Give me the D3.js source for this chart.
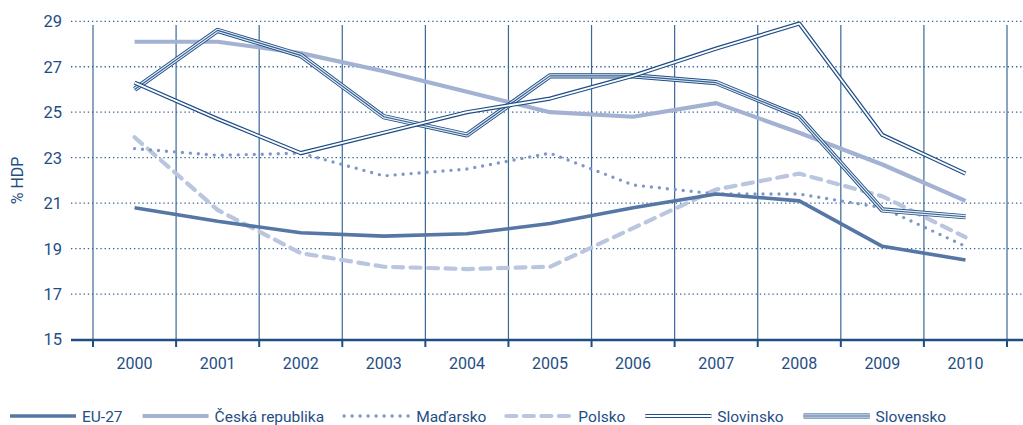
<!DOCTYPE html>
<html>
<head>
<meta charset="utf-8">
<script src="https://cdn.jsdelivr.net/npm/d3@7"></script>
<style>
	body { margin: 0; background: #fff; }
	text { font-family: "Roboto", "Open Sans", sans-serif; fill: #1f4e85; }
</style>
</head>
<body>
<script>
//chart values
var years = [2000, 2001, 2002, 2003, 2004, 2005, 2006, 2007, 2008, 2009, 2010];
var yTicks = [15, 17, 19, 21, 23, 25, 27, 29];

var eu27     = [20.8, 20.2, 19.7, 19.55, 19.65, 20.1, 20.8, 21.4, 21.1, 19.1, 18.5];
var cesko    = [28.1, 28.1, 27.6, 26.8, 25.9, 25.0, 24.8, 25.4, 24.1, 22.7, 21.1];
var madarsko = [23.4, 23.1, 23.2, 22.2, 22.5, 23.2, 21.8, 21.4, 21.4, 20.8, 19.1];
var polsko   = [23.9, 20.7, 18.8, 18.2, 18.1, 18.2, 19.9, 21.6, 22.3, 21.3, 19.5];
var slovinsko = [26.3, 24.7, 23.2, 24.1, 25.0, 25.6, 26.6, 27.8, 28.9, 24.0, 22.3];
var slovensko = [26.0, 28.6, 27.5, 24.8, 24.0, 26.6, 26.6, 26.3, 24.8, 20.7, 20.4];

var names = ["EU-27", "Česká republika", "Maďarsko", "Polsko", "Slovinsko", "Slovensko"];
var styles = ["solid", "light", "dotted", "dashed", "double", "triple"];
var values = [eu27, cesko, madarsko, polsko, slovinsko, slovensko];

var W = 1023, H = 425;
var dark = "#1f4e85";

var svg = d3.select("body").append("svg")
	.attr("width", W)
	.attr("height", H);

var xScale = d3.scaleBand().domain(years).range([93, 1007]);
var yScale = d3.scaleLinear().domain([15, 29]).range([339.5, 21.3]);

function xMid(yr) { return xScale(yr) + xScale.bandwidth() / 2; }

//horizontal dotted grid
svg.append("g").selectAll("line")
	.data(yTicks.filter(function(d) { return d > 15; })).enter()
		.append("line")
		.attr("x1", 71).attr("x2", W)
		.attr("y1", function(d) { return yScale(d); })
		.attr("y2", function(d) { return yScale(d); })
		.style("stroke", "#2f6094")
		.style("stroke-width", 1.3)
		.style("stroke-dasharray", "1.3,2.9");

//vertical separators between years
var bounds = years.map(function(d) { return xScale(d); }).concat([xScale.range()[1]]);
svg.append("g").selectAll("line")
	.data(bounds).enter()
		.append("line")
		.attr("x1", function(d) { return d; })
		.attr("x2", function(d) { return d; })
		.attr("y1", 25).attr("y2", 339)
		.style("stroke", "#3a6898")
		.style("stroke-width", 1.2);

//y tick labels
svg.append("g").selectAll("text")
	.data(yTicks).enter()
		.append("text")
		.attr("x", 62)
		.attr("y", function(d) { return yScale(d); })
		.attr("dy", "0.36em")
		.style("text-anchor", "end")
		.style("font-size", "16.5px")
		.text(function(d) { return d; });

svg.append("text")
	.attr("transform", "translate(23," + ((yScale(15) + yScale(29)) / 2) + ") rotate(-90)")
	.style("text-anchor", "middle")
	.style("font-size", "16px")
	.text("% HDP");

//x axis
svg.append("line")
	.attr("x1", 71).attr("x2", W)
	.attr("y1", 340).attr("y2", 340)
	.style("stroke", dark)
	.style("stroke-width", 2.4);
svg.append("g").selectAll("line")
	.data(bounds).enter()
		.append("line")
		.attr("x1", function(d) { return d; })
		.attr("x2", function(d) { return d; })
		.attr("y1", 340).attr("y2", 347)
		.style("stroke", dark)
		.style("stroke-width", 2);
svg.append("g").selectAll("text")
	.data(years).enter()
		.append("text")
		.attr("x", function(d) { return xMid(d); })
		.attr("y", 369)
		.style("text-anchor", "middle")
		.style("font-size", "16px")
		.text(function(d) { return d; });

//draws a path in one of the reference line styles
function strokeStyled(g, dAttr, style) {
	function p(color, w) {
		return g.append("path").attr("d", dAttr)
			.style("fill", "none")
			.style("stroke", color)
			.style("stroke-width", w)
			.style("stroke-linejoin", "round");
	}
	if (style == "solid") {
		p("#5676a6", 3.6);
	} else if (style == "light") {
		p("#a3b2d2", 4.2);
	} else if (style == "dotted") {
		p("#7f98c5", 3.4).style("stroke-dasharray", "0,8").style("stroke-linecap", "round");
	} else if (style == "dashed") {
		p("#bac6df", 4.2).style("stroke-dasharray", "10,7.5").style("stroke-linecap", "round");
	} else if (style == "double") {
		p(dark, 4.2);
		p("#fff", 1.8);
	} else if (style == "triple") {
		p(dark, 5.2);
		p("#e6ecf4", 3.4);
		p("#2f5e93", 1.1);
	}
}

var line = d3.line()
	.x(function(d, i) { return xMid(years[i]); })
	.y(function(d) { return yScale(d); });

//series, drawn light first so the double lines lie on top
var order = [3, 2, 1, 0, 5, 4];
order.forEach(function(k) {
	strokeStyled(svg.append("g").attr("class", "series"), line(values[k]), styles[k]);
});

//legend
var legend = svg.append("g").attr("class", "legend");
var lx = 10, ly = 416;
names.forEach(function(name, k) {
	var g = legend.append("g");
	strokeStyled(g, "M" + lx + "," + ly + "H" + (lx + 66), styles[k]);
	var t = g.append("text")
		.attr("x", lx + 72)
		.attr("y", ly + 6)
		.style("font-size", "15.5px")
		.text(name);
	lx = lx + 72 + t.node().getComputedTextLength() + 20;
});
</script>
</body>
</html>
